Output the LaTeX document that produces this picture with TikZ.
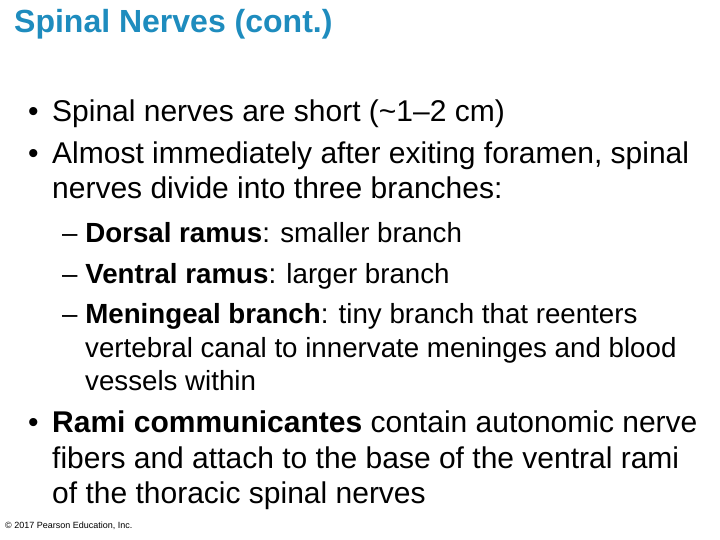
\documentclass[tikz,border=0pt]{standalone}
\usepackage{fontspec}
\setmainfont{Liberation Sans}
\definecolor{ttl}{RGB}{30,140,190}
\begin{document}
\begin{tikzpicture}[x=1pt,y=-1pt,
  t/.style={anchor=base west,inner sep=0pt,font=\fontsize{30}{36}\selectfont},
  s/.style={anchor=base west,inner sep=0pt,font=\fontsize{27.7}{32}\selectfont}]
\useasboundingbox[fill=white] (0,0) rectangle (720,540);
\node[anchor=base west,inner sep=0pt,text=ttl,font=\fontsize{32}{38}\selectfont\bfseries] (title) at (14,33) {Spinal Nerves (cont.)};
\node[t] (b1) at (28,122) {•};
\node[t] (l1) at (52,122) {Spinal nerves are short (\textasciitilde1–2 cm)};
\node[t] (b2) at (28,164) {•};
\node[t] (l2) at (52,164) {Almost immediately after exiting foramen, spinal};
\node[t] (l3) at (52,199) {nerves divide into three branches:};
\node[s] (d1) at (62,243) {– \textbf{Dorsal ramus}: smaller branch};
\node[s] (d2) at (62,283) {– \textbf{Ventral ramus}: larger branch};
\node[s] (d3) at (62,323) {– \textbf{Meningeal branch}: tiny branch that reenters};
\node[s] (d4) at (85,357) {vertebral canal to innervate meninges and blood};
\node[s] (d5) at (85,390) {vessels within};
\node[t] (b3) at (28,432) {•};
\node[t] (r1) at (52,432) {\textbf{Rami communicantes} contain autonomic nerve};
\node[t] (r2) at (52,468) {fibers and attach to the base of the ventral rami};
\node[t] (r3) at (52,503) {of the thoracic spinal nerves};
\node[anchor=base west,inner sep=0pt,font=\fontsize{9}{10}\selectfont] (ft) at (5,528) {© 2017 Pearson Education, Inc.};
\end{tikzpicture}
\end{document}
